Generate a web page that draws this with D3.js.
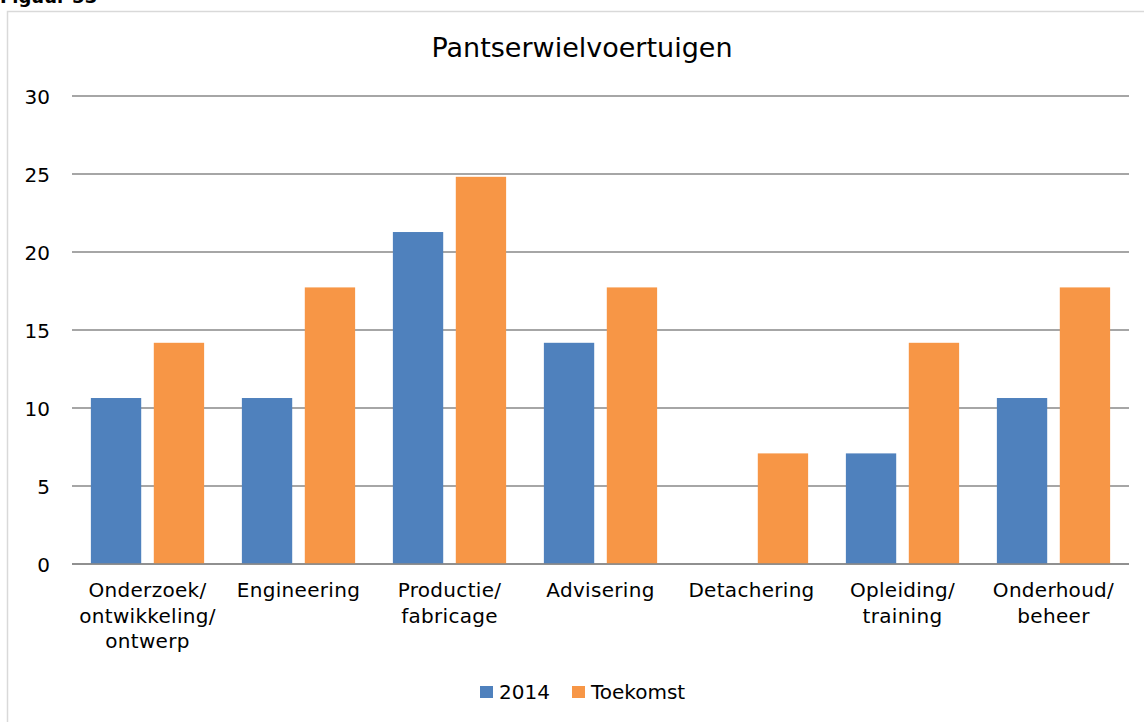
<!DOCTYPE html>
<html>
<head>
<meta charset="utf-8">
<script src="https://cdn.jsdelivr.net/npm/d3@7"></script>
<style>
  html, body { margin: 0; padding: 0; background: #fff; }
  svg { display: block; font-family: "DejaVu Sans", Verdana, sans-serif; }
</style>
</head>
<body>
<svg id="chart" width="1144" height="722"></svg>
<script>
// Activiteiten per categorie (percentage)
const categories = [
  ["Onderzoek/", "ontwikkeling/", "ontwerp"],
  ["Engineering"],
  ["Productie/", "fabricage"],
  ["Advisering"],
  ["Detachering"],
  ["Opleiding/", "training"],
  ["Onderhoud/", "beheer"]
];
const seriesNames = ["2014", "Toekomst"];
const values2014 = [10.64, 10.64, 21.28, 14.18, 0, 7.09, 10.64];
const valuesToekomst = [14.18, 17.73, 24.82, 17.73, 7.09, 14.18, 17.73];
const yTicks = [0, 5, 10, 15, 20, 25, 30];
const colors = ["#4F81BD", "#F79646"];

const svg = d3.select("#chart");
const margin = { left: 72, right: 15, top: 96, bottom: 158 };
const W = 1144, H = 722;

// figure caption, running off the top edge
svg.append("text")
  .attr("x", 0).attr("y", 3)
  .attr("font-size", 18).attr("font-weight", "bold")
  .attr("fill", "#000")
  .text("Figuur 53");

// chart frame
svg.append("rect")
  .attr("x", 7.5).attr("y", 11.5)
  .attr("width", 1160).attr("height", 730)
  .attr("fill", "none").attr("stroke", "#D9D9D9").attr("stroke-width", 1.5);

const x0 = d3.scaleBand()
  .domain(d3.range(categories.length))
  .range([margin.left, W - margin.right])
  .paddingInner(0.25).paddingOuter(0.125);

const x1 = d3.scaleBand()
  .domain(d3.range(seriesNames.length))
  .range([0, x0.bandwidth()])
  .paddingInner(0.2);

const y = d3.scaleLinear().domain([0, 30]).range([H - margin.bottom, margin.top]);

// gridlines
svg.append("g")
  .selectAll("line")
  .data(yTicks)
  .join("line")
  .attr("x1", margin.left).attr("x2", W - margin.right)
  .attr("y1", d => y(d)).attr("y2", d => y(d))
  .attr("stroke", "#888").attr("stroke-width", 1.5);

// y axis labels
const yAxis = d3.axisLeft(y).tickValues(yTicks).tickSize(0).tickPadding(0);
const gy = svg.append("g").attr("transform", `translate(${margin.left - 22},0)`).call(yAxis);
gy.select(".domain").remove();
gy.selectAll("text")
  .attr("font-size", 20).attr("fill", "#000")
  .attr("font-family", "DejaVu Sans, Verdana, sans-serif")
  .attr("dy", "0.36em");

// bars
const seriesData = [values2014, valuesToekomst];
const groups = svg.append("g")
  .selectAll("g")
  .data(categories.map((c, i) => i))
  .join("g")
  .attr("transform", i => `translate(${x0(i)},0)`);

groups.selectAll("rect")
  .data(i => seriesData.map((s, k) => ({ k, v: s[i] })))
  .join("rect")
  .attr("x", d => x1(d.k))
  .attr("width", x1.bandwidth())
  .attr("y", d => y(d.v))
  .attr("height", d => y(0) - y(d.v))
  .attr("fill", d => colors[d.k]);

// baseline redrawn on top
svg.append("line")
  .attr("x1", margin.left).attr("x2", W - margin.right)
  .attr("y1", y(0)).attr("y2", y(0))
  .attr("stroke", "#888").attr("stroke-width", 1.5);

// category labels
const labels = svg.append("g")
  .selectAll("text")
  .data(categories.map((c, i) => ({ c, i })))
  .join("text")
  .attr("text-anchor", "middle")
  .attr("font-size", 20)
  .attr("letter-spacing", 0.3)
  .attr("fill", "#000")
  .attr("transform", d => `translate(${x0(d.i) + x0.bandwidth() / 2},${y(0) + 33})`);
labels.selectAll("tspan")
  .data(d => d.c)
  .join("tspan")
  .attr("x", 0)
  .attr("dy", (d, j) => j === 0 ? 0 : 25.5)
  .text(d => d);

// title
svg.append("text")
  .attr("x", 582).attr("y", 57)
  .attr("text-anchor", "middle")
  .attr("font-size", 27).attr("fill", "#000")
  .text("Pantserwielvoertuigen");

// legend
const legendItems = [{ name: seriesNames[0], x: 480 }, { name: seriesNames[1], x: 572 }];
const lg = svg.append("g").selectAll("g").data(legendItems.map((d, k) => ({ ...d, k }))).join("g");
lg.append("rect")
  .attr("x", d => d.x).attr("y", 686)
  .attr("width", 13).attr("height", 12)
  .attr("fill", d => colors[d.k]);
lg.append("text")
  .attr("x", d => d.x + 19).attr("y", 699)
  .attr("font-size", 20).attr("fill", "#000")
  .text(d => d.name);
</script>
</body>
</html>
